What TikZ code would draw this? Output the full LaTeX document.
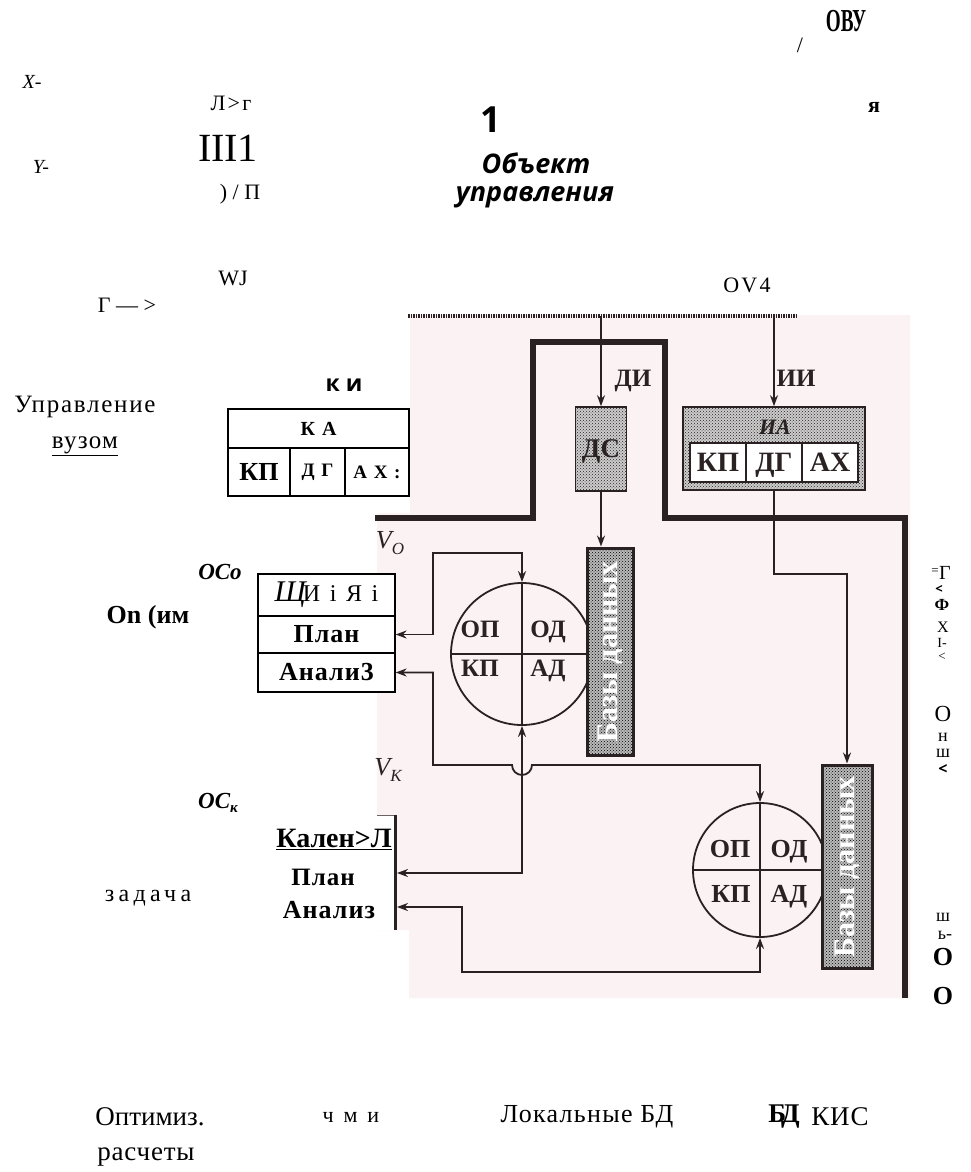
\documentclass[tikz,border=0pt]{standalone}
\usepackage{fontspec}
\setmainfont{Liberation Serif}
\newfontfamily\osans{Open Sans}
\usetikzlibrary{arrows.meta,patterns}
\definecolor{paper}{RGB}{250,242,243}
\definecolor{ink}{RGB}{42,34,34}
\newcommand{\tsz}[1]{\fontsize{#1}{#1}\selectfont}
\newcommand{\ls}[1]{\addfontfeature{LetterSpace=#1}}
\tikzset{
  conn/.style={line width=1.8pt, draw=ink},
  frame/.style={line width=5.5pt, draw=ink},
  dotbox/.style={draw=ink, line width=1.6pt, preaction={fill=gray!40}, pattern=crosshatch dots, pattern color=ink, inner sep=0pt, text depth=0pt},
  bdbar/.style={draw=ink, line width=3pt, preaction={fill=gray!55}, pattern=crosshatch dots, pattern color=black, inner sep=0pt},
  bdtext/.style={rotate=90, text=white, font=\tsz{30}\bfseries, inner sep=0pt},
  circ/.style={circle, draw=ink, line width=1.8pt, inner sep=0pt},
  cell/.style={draw=ink, fill=white, line width=1.4pt, inner sep=0pt, text=ink, text depth=0pt},
  tab/.style={draw=black, fill=white, line width=1.2pt, inner sep=0pt},
  lbl/.style={inner sep=0pt, text=ink, text depth=0pt, font=\tsz{#1}\bfseries},
  lbl/.default=25,
  txt/.style={inner sep=0pt},
}
\begin{document}
\begin{tikzpicture}[x=1pt, y=-1pt, >={Stealth[length=11pt,width=8pt]}]
\useasboundingbox (0,0) rectangle (970,1172);
% scanned page
\fill[paper] (410,315) -- (910,315) -- (910,998) -- (409,998) -- (409,930)
  -- (377,930) -- (377,513) -- (410,513) -- cycle;
\coordinate (rulel) at (408,316);
\coordinate (ruler) at (797,316);
\draw[line width=4pt, ink, dash pattern=on 1.5pt off 1pt] (rulel) -- (ruler);
% frame
\draw[frame] (375,518) -- (533,518) -- (533,342) -- (665,342) -- (665,518)
  -- (905,518) -- (905,998);
% DS and IA
\node[dotbox, minimum width=51, minimum height=84, lbl=27] (ds) at (601,449) {ДС};
\node[dotbox, minimum width=182, minimum height=83] (ia) at (774,448.5) {};
\node[inner sep=0pt, text=ink, font=\tsz{22}\bfseries\itshape] (ialab) at (775,427) {ИА};
\node[cell, minimum width=56, minimum height=39, font=\tsz{28}\bfseries] (iakp) at (718,462.5) {КП};
\node[cell, minimum width=56, minimum height=39, font=\tsz{28}\bfseries] (iadg) at (774,462.5) {ДГ};
\node[cell, minimum width=56, minimum height=39, font=\tsz{28}\bfseries] (iaax) at (830,462.5) {АХ};
\draw[conn,->] (ds.north |- rulel) -- (ds.north);
\draw[conn,->] (ia.north |- ruler) -- (ia.north);
\node[lbl] (dilab) at (633,378) {ДИ};
\node[lbl] (iilab) at (796,378) {ИИ};
% circles
\node[circ, minimum size=142] (c1) at (522,654) {};
\draw[conn] (c1.north) -- (c1.south);
\draw[conn] (c1.west) -- (c1.east);
\node[lbl] (c1op) at (480,629) {ОП};
\node[lbl] (c1od) at (548,629) {ОД};
\node[lbl] (c1kp) at (480,668) {КП};
\node[lbl] (c1ad) at (548,668) {АД};
\node[circ, minimum size=134] (c2) at (760,870) {};
\draw[conn] (c2.north) -- (c2.south);
\draw[conn] (c2.west) -- (c2.east);
\node[lbl=26] (c2op) at (730,849) {ОП};
\node[lbl=26] (c2od) at (789,849) {ОД};
\node[lbl=26] (c2kp) at (731,894) {КП};
\node[lbl=26] (c2ad) at (789,894) {АД};
% data bases
\node[bdbar, minimum width=46, minimum height=207] (bd1) at (610,651.5) {};
\node[bdtext] (bd1t) at (bd1) {Базы данных};
\node[bdbar, minimum width=50, minimum height=203] (bd2) at (847,866.5) {};
\node[bdtext] (bd2t) at (bd2) {Базы данных};
\draw[conn,->] (ds.south) -- (ds.south |- bd1.north);
\draw[conn,->] (ia.south) -- ++(0,83) -| (bd2.north);
% overlay tables
\node[tab, minimum width=181, minimum height=39, font=\tsz{20}\bfseries\ls{10}] (t1ka) at (318.5,428.5) {К А};
\node[tab, minimum width=62, minimum height=48, font=\tsz{26}\bfseries] (t1kp) at (259,472) {КП};
\node[tab, minimum width=55, minimum height=48, font=\tsz{19}\bfseries\ls{10}] (t1dg) at (317.5,472) {Д Г};
\node[tab, minimum width=64, minimum height=48, font=\tsz{19}\bfseries\ls{10}] (t1ax) at (377,472) {А Х :};
\node[tab, minimum width=137, minimum height=42] (t2sh) at (326.5,595) {{\itshape\tsz{30}Щ}\kern-3pt{\tsz{24}\ls{15}И і Я і}};
\node[tab, minimum width=137, minimum height=37, font=\tsz{26}\bfseries\ls{4}] (t2plan) at (326.5,634.5) {План};
\node[tab, minimum width=137, minimum height=39, font=\tsz{26}\bfseries\ls{4}] (t2anal) at (326.5,672.5) {Анали3};
\node[fill=white, minimum width=18, minimum height=115, inner sep=0pt, outer sep=0pt] (kal) at (386,872.5) {};
\draw[line width=1pt, ink!70] (kal.north west) -- ([xshift=2]kal.north east);
\draw[line width=3pt, ink] (kal.north east) -- (kal.south east);
\coordinate (kplan) at (397,873);
\coordinate (kanal) at (397,907);
% feedback
\coordinate (lpo) at (433,553);
\coordinate (lpk) at (433,765);
\coordinate (hop) at (512,765);
\draw[conn,<->] (t2plan.east) -| (lpo) -| (c1.north);
\draw[conn,<->] (t2anal.east) -| (lpk) -- (hop) arc[start angle=180, end angle=0, radius=10] -| (c2.north);
\draw[conn,<->] (kplan) -| (c1.south);
\draw[conn,<->] (kanal) -| (462,972) -| (c2.south);
\node[inner sep=0pt, text=ink, font=\tsz{26}\itshape] (volab) at (390,543) {V\raisebox{-6pt}{\tsz{17}O}};
\node[inner sep=0pt, text=ink, font=\tsz{26}\itshape] (vklab) at (388,770) {V\raisebox{-6pt}{\tsz{17}K}};
% text of the page
\node[txt, font=\tsz{20}\itshape] (xlab) at (32,82) {X-};
\node[txt, font=\tsz{22}\ls{10}] (lrg) at (231,103) {Л>г};
\node[txt, font=\tsz{40}] (iii) at (228,148) {III1};
\node[txt, font=\tsz{20}\itshape] (ylab) at (41,167) {Y-};
\node[txt, font=\tsz{22}] (pi) at (240,194) {) / П};
\node[txt, font=\tsz{22}] (wj) at (233,278) {WJ};
\node[txt, font=\tsz{22}] (gam) at (127,305) {Г — >};
\node[txt, font=\osans\bfseries\tsz{36}] (one) at (491,120) {1};
\node[txt, font=\osans\bfseries\itshape\tsz{27}] (obj) at (536,163) {Объект};
\node[txt, font=\osans\bfseries\itshape\tsz{27}] (upr) at (535,197) {управления};
\node[txt, font=\tsz{22}] (slash) at (800,45) {/};
\node[txt, font=\tsz{32}\bfseries] (ovu) at (846,21) {\scalebox{0.6}[1]{ОВУ}};
\node[txt, font=\tsz{22}\bfseries] (ya) at (874,107) {я};
\node[txt, font=\tsz{22}\ls{10}] (ov4) at (747,285) {OV4};
\node[txt, font=\osans\bfseries\tsz{23}] (ki) at (344,385) {к и};
\node[txt, font=\tsz{25}\ls{7}] (uprv) at (85,407) {Управление};
\node[txt, font=\tsz{25}\ls{5}] (vuz) at (85,446) {\underline{вузом}};
\node[txt, font=\tsz{23}\bfseries\itshape] (oco) at (220,572) {OCo};
\node[txt, font=\tsz{26}\bfseries] (onim) at (148,617) {On (им};
\node[txt, font=\tsz{23}\bfseries\itshape] (ock) at (218,803) {OC\raisebox{-4pt}{\tsz{15}к}};
\node[txt, font=\tsz{28}\bfseries] (kalt) at (334,839) {\underline{Кален>Л}};
\node[txt, font=\tsz{25}\bfseries\ls{4}] (kplant) at (323,877) {План};
\node[txt, font=\tsz{26}\bfseries\ls{4}] (kanalt) at (329,910) {Анализ};
\node[txt, font=\tsz{24}\ls{18}] (zad) at (148,898) {задача};
% right column
\node[txt, font=\tsz{13}] (rc0) at (935,572) {=};
\node[txt, font=\tsz{20}] (rc1) at (945,573) {Г};
\node[txt, font=\osans\bfseries\tsz{13}] (rc2) at (939,589) {<};
\node[txt, font=\tsz{17}\bfseries] (rc3) at (942,605) {Ф};
\node[txt, font=\tsz{16}] (rc4) at (943,627) {X};
\node[txt, font=\tsz{14}] (rc5) at (942,643) {І-};
\node[txt, font=\tsz{13}] (rc6) at (942,657) {<};
\node[txt, font=\tsz{23}] (rc7) at (943,714) {О};
\node[txt, font=\tsz{18}] (rc8) at (943,737) {н};
\node[txt, font=\tsz{18}] (rc9) at (943,753) {ш};
\node[txt, font=\osans\bfseries\tsz{16}] (rc10) at (943,769) {<};
\node[txt, font=\tsz{18}] (rc11) at (943,917) {ш};
\node[txt, font=\tsz{18}] (rc12) at (945,935) {ь-};
\node[txt, font=\tsz{26}\bfseries] (rc13) at (943,957) {О};
\node[txt, font=\tsz{26}\bfseries] (rc14) at (943,996) {О};
% bottom row
\node[txt, font=\tsz{27}] (opt) at (150,1117) {Оптимиз.};
\node[txt, font=\tsz{27}\ls{3}] (rasch) at (146,1157) {расчеты};
\node[txt, font=\tsz{22}\ls{20}] (chmi) at (351,1117) {ч м и};
\node[txt, font=\tsz{26}\ls{5}] (lok) at (587,1117) {Локальные БД};
\node[txt, font=\tsz{27}\bfseries] (bdb) at (784,1117) {Б\kern-5pt Д};
\node[txt, font=\tsz{27}\ls{3}] (kis) at (840,1117) {КИС};
\end{tikzpicture}
\end{document}
